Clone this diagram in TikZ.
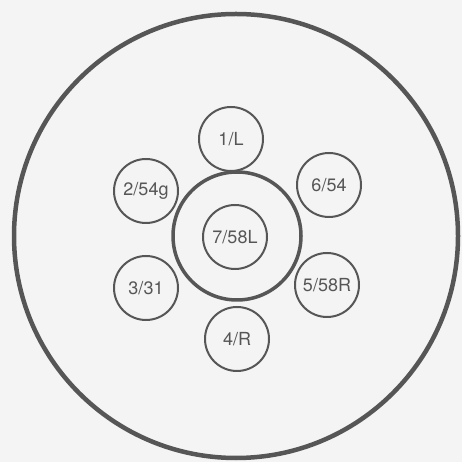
\documentclass[tikz,border=0pt]{standalone}
\usepackage{fontspec}
\setmainfont{TeX Gyre Heros}
\usepackage{tikz}
\definecolor{ink}{HTML}{565656}
\definecolor{paper}{HTML}{F4F4F4}
\tikzset{plug/.style={circle,draw=ink,line width=2pt,minimum size=64pt,inner sep=0pt,text=ink,font=\fontsize{18}{20}\selectfont},
  rim/.style={ink,line width=4.5pt}, ring/.style={ink,line width=3.5pt}}

\begin{document}
\begin{tikzpicture}[x=1pt,y=1pt]
\fill[paper] (0,0) rectangle (462,462);
\useasboundingbox (0,0) rectangle (462,462);
\draw[rim] (236,226) circle (222);
\draw[ring] (237,226) circle (64);
\node[plug] (c7) at (235,225) {7/58L};
\node[plug] (c1) at (231,323) {1/L}; \node[plug] (c4) at (237,123) {4/R};
\node[plug] (c2) at (146,271) {2/54g}; \node[plug] (c6) at (329,277) {6/54};
\node[plug] (c3) at (146,174) {3/31}; \node[plug] (c5) at (327,177) {5/58R};
\end{tikzpicture}
\end{document}
